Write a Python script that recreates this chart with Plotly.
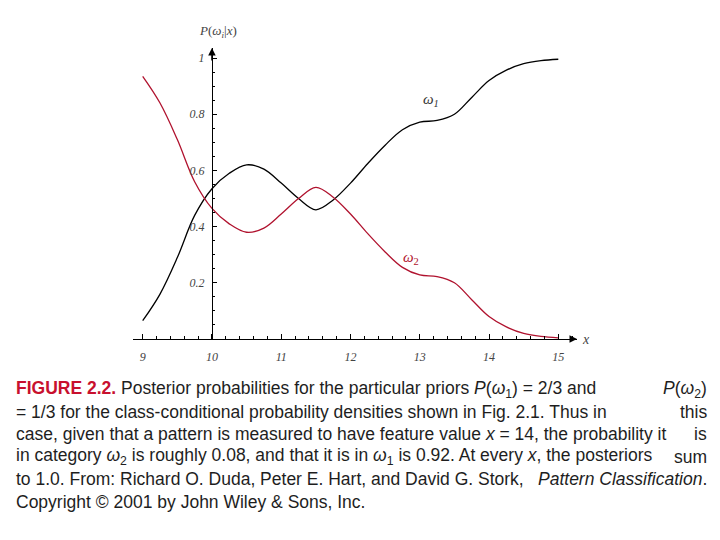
import plotly.graph_objects as go

# ---- data ----
x_vals = [9.0, 9.25, 9.5, 9.75, 10.0, 10.25, 10.5, 10.75, 11.0, 11.25, 11.5, 11.75,
          12.0, 12.25, 12.5, 12.75, 13.0, 13.25, 13.5, 13.75, 14.0, 14.25, 14.5, 14.75, 15.0]
omega1 = [0.065, 0.16, 0.29, 0.44, 0.535, 0.59, 0.62, 0.605, 0.555, 0.50, 0.46, 0.495,
          0.555, 0.625, 0.69, 0.745, 0.772, 0.778, 0.80, 0.86, 0.92, 0.957, 0.98, 0.991, 0.996]
omega2 = [0.935, 0.84, 0.71, 0.56, 0.465, 0.41, 0.38, 0.395, 0.445, 0.50, 0.54, 0.505,
          0.445, 0.375, 0.31, 0.255, 0.228, 0.222, 0.20, 0.14, 0.08, 0.043, 0.02, 0.009, 0.004]
x_ticks = [9, 10, 11, 12, 13, 14, 15]
y_ticks = [0.2, 0.4, 0.6, 0.8, 1.0]
y_tick_text = ["0.2", "0.4", "0.6", "0.8", "1"]

caption_lines = [
    ("<b><span style='color:#c8102e'>FIGURE 2.2.</span></b> Posterior probabilities for the particular priors <i>P</i>(<i>ω</i><sub>1</sub>) = 2/3 and",
     "<i>P</i>(<i>ω</i><sub>2</sub>)"),
    ("= 1/3 for the class-conditional probability densities shown in Fig. 2.1. Thus in", "this"),
    ("case, given that a pattern is measured to have feature value <i>x</i> = 14, the probability it", "is"),
    ("in category <i>ω</i><sub>2</sub> is roughly 0.08, and that it is in <i>ω</i><sub>1</sub> is 0.92. At every <i>x</i>, the posteriors", "sum"),
    ("to 1.0. From: Richard O. Duda, Peter E. Hart, and David G. Stork,", "<i>Pattern Classification</i>."),
    ("Copyright © 2001 by John Wiley &amp; Sons, Inc.", None),
]

RED = "#b0122e"
SERIF = "Liberation Serif, DejaVu Serif, serif"
CAP_FONT = "Liberation Sans, Arial, sans-serif"

W, H = 720, 540
L, R, T, B = 133, 143, 48, 201
x_range = [8.86, 15.27]
y_range = [0.0, 1.036]


def px(x):
    return (x - L) / (W - L - R)


def py(y):
    return (H - B - y) / (H - T - B)


fig = go.Figure()
fig.add_trace(go.Scatter(x=x_vals, y=omega1, mode="lines",
                         line=dict(color="black", width=1.3, shape="spline", smoothing=1.0),
                         showlegend=False, hoverinfo="skip"))
fig.add_trace(go.Scatter(x=x_vals, y=omega2, mode="lines",
                         line=dict(color=RED, width=1.3, shape="spline", smoothing=1.0),
                         showlegend=False, hoverinfo="skip"))

ypos = (10 - x_range[0]) / (x_range[1] - x_range[0])

fig.update_layout(
    width=W, height=H,
    margin=dict(l=L, r=R, t=T, b=B),
    paper_bgcolor="white", plot_bgcolor="white",
    xaxis=dict(range=x_range, showgrid=False, zeroline=False, domain=[0, 1],
               showline=True, linecolor="black", linewidth=1.2,
               tickvals=x_ticks, ticks="inside", ticklen=5, tickcolor="black", tickwidth=1,
               minor=dict(dtick=0.2, tick0=9, ticks="inside", ticklen=3, tickcolor="black"),
               tickfont=dict(family=SERIF, size=12, color="#444", style="italic"),
               ticklabelstandoff=6,
               fixedrange=True),
    yaxis=dict(range=y_range, showgrid=False, zeroline=False, domain=[0, 1],
               anchor="free", position=ypos,
               showline=True, linecolor="black", linewidth=1.2,
               tickvals=y_ticks, ticktext=y_tick_text,
               ticks="inside", ticklen=4, tickcolor="black",
               minor=dict(dtick=0.05, tick0=0, ticks="inside", ticklen=2, tickcolor="black"),
               tickfont=dict(family=SERIF, size=12, color="#444", style="italic"),
               ticklabelstandoff=5,
               fixedrange=True),
)

# axis arrowheads
fig.add_annotation(x=x_range[1], y=0, ax=x_range[1] - 0.12, ay=0, xref="x", yref="y",
                   axref="x", ayref="y", showarrow=True, arrowhead=2, arrowsize=1,
                   arrowwidth=1.5, arrowcolor="black", text="")
fig.add_annotation(x=10, y=y_range[1], ax=10, ay=y_range[1] - 0.05, xref="x", yref="y",
                   axref="x", ayref="y", showarrow=True, arrowhead=2, arrowsize=1,
                   arrowwidth=1.5, arrowcolor="black", text="")


def label(xp, yp, text, size, color):
    fig.add_annotation(x=px(xp), y=py(yp), xref="paper", yref="paper",
                       xanchor="center", yanchor="middle", text=text, showarrow=False,
                       font=dict(family=SERIF, size=size, color=color))


# axis labels
label(586, 339, "<i>x</i>", 14, "#444")
label(218, 32, "<i>P</i>(<i>ω</i><sub><i>i</i></sub>|<i>x</i>)", 13, "#444")

# curve labels
label(431, 100, "<i>ω</i><sub><i>1</i></sub>", 15, "#333")
label(411, 258, "<i>ω</i><sub>2</sub>", 15, RED)

# caption (justified lines: left part + last word(s) at right margin)
line_y0 = 389
line_h = 22.6
CAP_SIZE = 17.5
for i, (left, right) in enumerate(caption_lines):
    yc = line_y0 + i * line_h
    fig.add_annotation(x=px(15), y=py(yc), xref="paper", yref="paper",
                       xanchor="left", yanchor="middle", text=left, showarrow=False,
                       borderpad=0, font=dict(family=CAP_FONT, size=CAP_SIZE, color="#1e1e1e"))
    if right:
        fig.add_annotation(x=px(708), y=py(yc), xref="paper", yref="paper",
                           xanchor="right", yanchor="middle", text=right, showarrow=False,
                           borderpad=0, font=dict(family=CAP_FONT, size=CAP_SIZE, color="#1e1e1e"))

fig.write_html("out.html", config={"displayModeBar": False},
               post_script="document.body.style.margin='0';")
